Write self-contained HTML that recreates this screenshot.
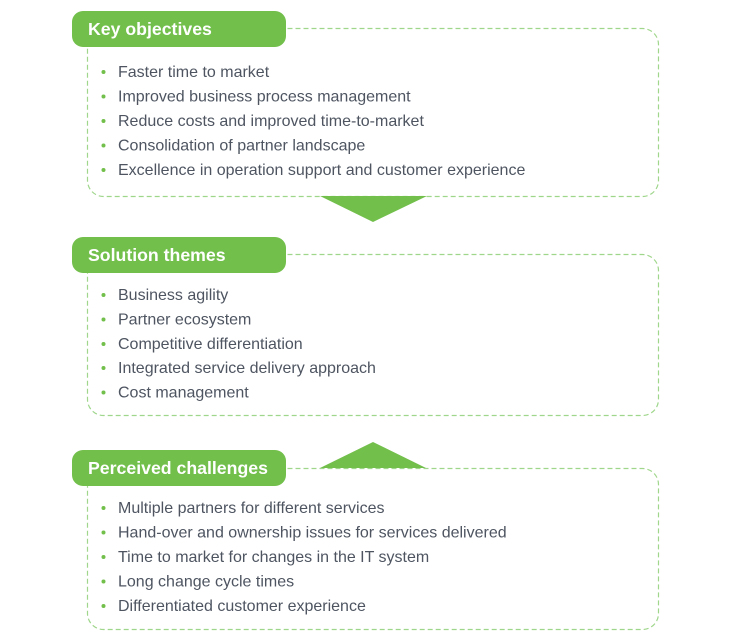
<!DOCTYPE html>
<html><head><meta charset="utf-8"><style>
html,body{margin:0;padding:0;background:#fff;width:730px;height:640px;overflow:hidden}
svg{display:block}
.t{font-family:"Liberation Sans",sans-serif;font-size:16px;fill:#4e5561}
.h{font-family:"Liberation Sans",sans-serif;font-size:17.7px;font-weight:bold;fill:#fff}
</style></head><body>
<svg width="730" height="640" viewBox="0 0 730 640" xmlns="http://www.w3.org/2000/svg">
<g fill="none" stroke="#9fd68b" stroke-width="1.2" stroke-dasharray="5 3">
<rect x="87.5" y="28.5" width="571" height="168" rx="16"/>
<rect x="87.5" y="254.5" width="571" height="161" rx="16"/>
<rect x="87.5" y="468.5" width="571" height="161" rx="16"/>
</g>
<g fill="#72bf4b">
<rect x="72" y="11" width="214" height="36" rx="11"/>
<rect x="72" y="237" width="214" height="36" rx="11"/>
<rect x="72" y="450" width="214" height="36" rx="11"/>
<polygon points="320,196 427,196 373,222"/>
<polygon points="320,468 426,468 373,442"/>
</g>
<text class="h" x="88" y="35">Key objectives</text>
<text class="h" x="88" y="261">Solution themes</text>
<text class="h" x="88" y="474">Perceived challenges</text>
<g fill="#72bf4b">
<circle cx="103.5" cy="72" r="2"/><circle cx="103.5" cy="96.5" r="2"/><circle cx="103.5" cy="121" r="2"/><circle cx="103.5" cy="145.5" r="2"/><circle cx="103.5" cy="170" r="2"/>
<circle cx="103.5" cy="295" r="2"/><circle cx="103.5" cy="319.5" r="2"/><circle cx="103.5" cy="344" r="2"/><circle cx="103.5" cy="368" r="2"/><circle cx="103.5" cy="392.5" r="2"/>
<circle cx="103.5" cy="508" r="2"/><circle cx="103.5" cy="532.5" r="2"/><circle cx="103.5" cy="557" r="2"/><circle cx="103.5" cy="581.5" r="2"/><circle cx="103.5" cy="606" r="2"/>
</g>
<g class="t">
<text class="t" x="118" y="77">Faster time to market</text>
<text class="t" x="118" y="101.5">Improved business process management</text>
<text class="t" x="118" y="126">Reduce costs and improved time-to-market</text>
<text class="t" x="118" y="150.5">Consolidation of partner landscape</text>
<text class="t" x="118" y="175">Excellence in operation support and customer experience</text>
<text class="t" x="118" y="300">Business agility</text>
<text class="t" x="118" y="324.5">Partner ecosystem</text>
<text class="t" x="118" y="349">Competitive differentiation</text>
<text class="t" x="118" y="373">Integrated service delivery approach</text>
<text class="t" x="118" y="397.5">Cost management</text>
<text class="t" x="118" y="513">Multiple partners for different services</text>
<text class="t" x="118" y="537.5">Hand-over and ownership issues for services delivered</text>
<text class="t" x="118" y="562">Time to market for changes in the IT system</text>
<text class="t" x="118" y="586.5">Long change cycle times</text>
<text class="t" x="118" y="611">Differentiated customer experience</text>
</g>
</svg>
</body></html>
